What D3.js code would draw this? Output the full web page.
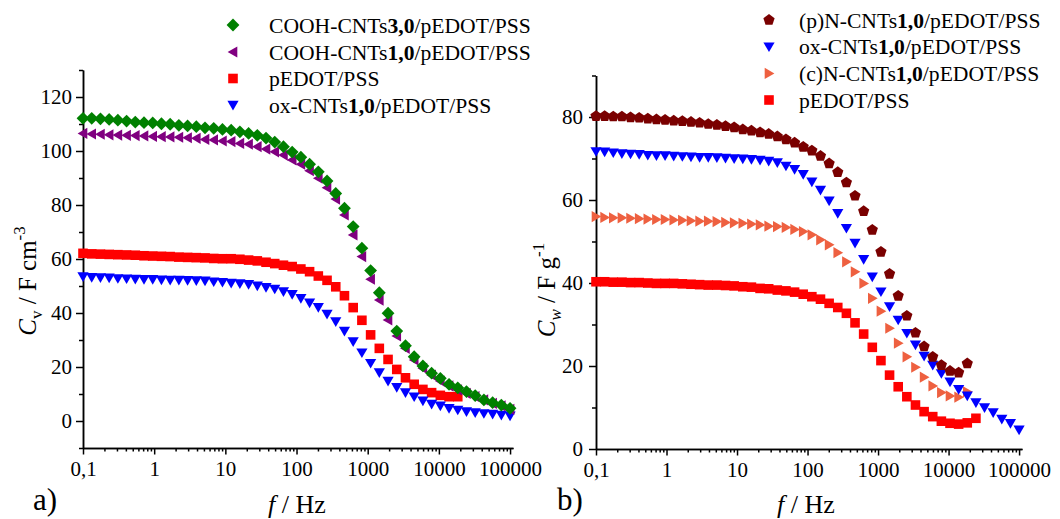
<!DOCTYPE html>
<html>
<head>
<meta charset="utf-8">
<script src="https://cdn.jsdelivr.net/npm/d3@7/dist/d3.min.js"></script>
<style>
  body { margin: 0; background: #fff; }
  svg { display: block; font-family: "Liberation Serif", "Times New Roman", serif; }
  .axis path, .axis line { stroke: #000; stroke-width: 1.5; }
  .axis text { font-size: 21px; fill: #000; font-family: "Liberation Serif", "Times New Roman", serif; }
</style>
</head>
<body>
<svg width="1060" height="519"></svg>
<script>
'use strict';

// frequencies of the sweep (Hz), shared by all series
var freq = [0.1, 0.1326, 0.1758, 0.233, 0.3089, 0.4095, 0.5429, 0.7197, 0.9541, 1.265,
  1.677, 2.223, 2.947, 3.907, 5.179, 6.866, 9.103, 12.07, 16.0, 21.21,
  28.12, 37.28, 49.42, 65.52, 86.85, 115.1, 152.6, 202.4, 268.3, 355.7,
  471.5, 625.1, 828.7, 1099, 1456, 1931, 2560, 3393, 4498, 5964,
  7906, 10481, 13895, 18421, 24421, 32375, 42919, 56899, 75431, 100000];

var xTickValues = [0.1, 1, 10, 100, 1000, 10000, 100000];
var xTickLabels = ['0,1', '1', '10', '100', '1000', '10000', '100000'];

var cvTicks = [0, 20, 40, 60, 80, 100, 120];
var cvMinorTicks = [-10, 10, 30, 50, 70, 90, 110, 130];
var cwTicks = [0, 20, 40, 60, 80];
var cwMinorTicks = [10, 30, 50, 70, 90];

// panel a) volumetric capacitance, F cm-3
var cvCooh30 = [112.1, 112.1, 111.9, 111.7, 111.4, 111.1, 110.7, 110.5, 110.4, 110.1,
  109.9, 109.5, 109.3, 109.0, 108.6, 108.4, 108.0, 107.7, 107.1, 106.5,
  105.8, 104.8, 103.3, 101.6, 99.6, 97.7, 95.1, 92.3, 88.9, 84.3,
  78.8, 72.0, 64.0, 55.7, 47.5, 39.9, 33.3, 27.9, 23.8, 20.4,
  17.7, 15.8, 13.6, 12.3, 10.9, 9.4, 7.8, 6.8, 5.9, 4.7];
var cvCooh10 = [106.5, 106.3, 106.2, 106.0, 105.9, 105.8, 105.7, 105.6, 105.4, 105.3,
  105.2, 105.1, 104.9, 104.7, 104.3, 104.1, 103.7, 103.5, 102.8, 102.5,
  101.6, 100.7, 99.7, 98.5, 96.7, 95.1, 92.7, 89.9, 86.4, 82.2,
  76.3, 68.9, 60.9, 52.5, 44.8, 37.4, 31.5, 26.9, 22.6, 19.5,
  17.0, 14.8, 13.0, 11.5, 10.2, 9.0, 7.8, 6.5, 5.6, 4.3];
var cvPedot = [62.1, 61.9, 61.8, 61.7, 61.6, 61.5, 61.4, 61.2, 61.1, 61.0,
  60.9, 60.7, 60.6, 60.5, 60.4, 60.2, 60.1, 60.1, 59.9, 59.6,
  59.3, 58.8, 58.3, 57.7, 57.2, 56.3, 55.3, 53.7, 52.1, 49.7,
  46.4, 42.0, 37.3, 31.9, 26.9, 22.8, 19.1, 16.0, 13.6, 11.7,
  10.5, 9.5, 9.0, 9.0];
var cvOx = [53.5, 53.2, 53.1, 53.0, 52.8, 52.7, 52.6, 52.5, 52.5, 52.3,
  52.2, 52.2, 52.1, 52.0, 51.9, 51.6, 51.4, 51.1, 50.9, 50.6,
  50.1, 49.5, 48.9, 47.9, 46.9, 45.4, 43.8, 42.1, 39.6, 36.8,
  33.3, 29.4, 25.3, 21.4, 17.9, 14.8, 12.5, 10.5, 9.0, 7.5,
  6.3, 5.6, 4.7, 4.1, 3.5, 3.1, 2.8, 2.6, 2.2, 1.9];

// panel b) gravimetric capacitance, F g-1
var cwPN = [80.2, 80.2, 80.1, 80.1, 79.9, 79.8, 79.6, 79.4, 79.3, 79.1,
  79.0, 78.8, 78.6, 78.3, 78.1, 77.8, 77.5, 77.0, 76.7, 76.3,
  75.9, 75.3, 74.6, 73.8, 72.8, 71.9, 70.6, 68.8, 66.7, 64.2,
  61.0, 57.3, 52.8, 47.5, 42.2, 36.9, 32.1, 28.0, 24.7, 22.2,
  20.2, 18.8, 18.4, 20.6];
var cwOx = [71.7, 71.6, 71.4, 71.2, 71.1, 71.0, 70.8, 70.7, 70.7, 70.6,
  70.5, 70.4, 70.3, 70.3, 70.2, 70.1, 70.0, 69.9, 69.8, 69.6,
  69.4, 69.0, 68.2, 67.4, 66.2, 64.4, 62.4, 59.8, 56.8, 53.2,
  49.6, 45.7, 41.5, 37.9, 34.3, 31.1, 27.9, 25.1, 22.4, 20.2,
  18.2, 16.2, 14.4, 12.8, 11.2, 10.0, 8.8, 7.2, 6.2, 4.6];
var cwCN = [56.0, 55.8, 55.7, 55.7, 55.6, 55.5, 55.4, 55.3, 55.3, 55.2,
  55.1, 55.0, 54.9, 54.9, 54.8, 54.6, 54.5, 54.4, 54.2, 54.0,
  53.7, 53.6, 53.4, 52.9, 52.4, 51.6, 50.4, 49.2, 47.3, 45.1,
  42.7, 39.9, 36.3, 33.2, 29.1, 25.5, 22.2, 19.7, 17.3, 15.2,
  13.6, 12.8, 12.5, 13.8];
var cwPedot = [40.3, 40.3, 40.2, 40.2, 40.1, 40.1, 40.0, 39.9, 39.9, 39.9,
  39.8, 39.7, 39.6, 39.5, 39.5, 39.4, 39.3, 39.1, 39.0, 38.7,
  38.6, 38.3, 38.1, 37.8, 37.3, 36.7, 36.1, 35.1, 34.1, 32.7,
  30.4, 27.7, 24.5, 21.3, 17.8, 15.0, 12.6, 10.6, 9.0, 7.8,
  6.7, 6.2, 6.0, 6.3, 7.4];

var svg = d3.select('svg');

// marker glyphs, centred on 0,0
function markerPath(shape) {
  var p;
  if (shape === 'square') p = [[-4.8, -4.8], [4.8, -4.8], [4.8, 4.8], [-4.8, 4.8]];
  else if (shape === 'diamond') p = [[0, -6.4], [6.4, 0], [0, 6.4], [-6.4, 0]];
  else if (shape === 'triDown') p = [[-5.6, -4.3], [5.6, -4.3], [0, 5.4]];
  else if (shape === 'triLeft') p = [[-5.4, 0], [4.3, -5.6], [4.3, 5.6]];
  else if (shape === 'triRight') p = [[5.4, 0], [-4.3, -5.6], [-4.3, 5.6]];
  else {
    p = d3.range(5).map(function(i) {
      var a = -Math.PI / 2 + i * 2 * Math.PI / 5;
      return [5.9 * Math.cos(a), 5.9 * Math.sin(a)];
    });
  }
  return 'M' + p.map(function(q) { return q[0].toFixed(2) + ',' + q[1].toFixed(2); }).join('L') + 'Z';
}

var panels = [
  {
    xRange: [83, 513],
    yDomain: [-10, 130], yRange: [448, 70],
    yTicks: cvTicks, yMinor: cvMinorTicks, yPad: 4,
    series: [
      { values: cvPedot, color: '#ff0000', shape: 'square' },
      { values: cvOx, color: '#0000ff', shape: 'triDown' },
      { values: cvCooh10, color: '#800080', shape: 'triLeft' },
      { values: cvCooh30, color: '#008000', shape: 'diamond' }
    ],
    legend: {
      markerX: 233, textX: 269, rows: [25, 52, 78.5, 105],
      items: [
        { parts: ['COOH-CNTs', '3,0', '/pEDOT/PSS'], color: '#008000', shape: 'diamond' },
        { parts: ['COOH-CNTs', '1,0', '/pEDOT/PSS'], color: '#800080', shape: 'triLeft' },
        { parts: ['pEDOT/PSS'], color: '#ff0000', shape: 'square' },
        { parts: ['ox-CNTs', '1,0', '/pEDOT/PSS'], color: '#0000ff', shape: 'triDown' }
      ]
    },
    yTitle: { x: 36, y: 281, sub: 'v', subItalic: false, unit: ' / F cm', sup: '-3' },
    xTitleX: 297, tag: 'a)', tagX: 33
  },
  {
    xRange: [596, 1022],
    yDomain: [0, 90], yRange: [449, 75.5],
    yTicks: cwTicks, yMinor: cwMinorTicks, yPad: 6,
    series: [
      { values: cwPedot, color: '#ff0000', shape: 'square' },
      { values: cwCN, color: '#ee6040', shape: 'triRight' },
      { values: cwOx, color: '#0000ff', shape: 'triDown' },
      { values: cwPN, color: '#7a0000', shape: 'pentagon' }
    ],
    legend: {
      markerX: 769, textX: 799, rows: [20, 46.7, 73.4, 100],
      items: [
        { parts: ['(p)N-CNTs', '1,0', '/pEDOT/PSS'], color: '#7a0000', shape: 'pentagon' },
        { parts: ['ox-CNTs', '1,0', '/pEDOT/PSS'], color: '#0000ff', shape: 'triDown' },
        { parts: ['(c)N-CNTs', '1,0', '/pEDOT/PSS'], color: '#ee6040', shape: 'triRight' },
        { parts: ['pEDOT/PSS'], color: '#ff0000', shape: 'square' }
      ]
    },
    yTitle: { x: 555, y: 290, sub: 'w', subItalic: true, unit: ' / F g', sup: '-1' },
    xTitleX: 806, tag: 'b)', tagX: 557
  }
];

panels.forEach(function(p) {
  var xScale = d3.scaleLog().domain([0.1, 110000]).range(p.xRange);
  var yScale = d3.scaleLinear().domain(p.yDomain).range(p.yRange);
  var y0 = p.yRange[0];

  // minor x ticks: 2..9 of each decade
  var xMinor = xScale.ticks().filter(function(d) {
    return xTickValues.indexOf(d) < 0 && d <= 100000;
  });

  svg.append('g')
      .attr('class', 'axis')
      .attr('transform', 'translate(0,' + y0 + ')')
      .call(d3.axisBottom(xScale).tickValues(xMinor).tickFormat('').tickSize(3.5).tickSizeOuter(0));

  svg.append('g')
      .attr('class', 'axis')
      .attr('transform', 'translate(0,' + y0 + ')')
      .call(d3.axisBottom(xScale)
        .tickValues(xTickValues)
        .tickFormat(function(d, i) { return xTickLabels[i]; })
        .tickSize(6.5)
        .tickSizeOuter(0)
        .tickPadding(7));

  svg.append('g')
      .attr('class', 'axis')
      .attr('transform', 'translate(' + p.xRange[0] + ',0)')
      .call(d3.axisLeft(yScale).tickValues(p.yMinor).tickFormat('').tickSize(4).tickSizeOuter(0));

  svg.append('g')
      .attr('class', 'axis')
      .attr('transform', 'translate(' + p.xRange[0] + ',0)')
      .call(d3.axisLeft(yScale)
        .tickValues(p.yTicks)
        .tickSize(7)
        .tickSizeOuter(0)
        .tickPadding(p.yPad));

  // data points
  p.series.forEach(function(s) {
    svg.append('g')
      .selectAll('path')
      .data(s.values.map(function(v, i) { return { f: freq[i], v: v }; }))
      .enter().append('path')
        .attr('d', markerPath(s.shape))
        .attr('transform', function(d) {
          return 'translate(' + xScale(d.f) + ',' + yScale(d.v) + ')';
        })
        .style('fill', s.color);
  });

  // legend
  p.legend.items.forEach(function(item, i) {
    var ry = p.legend.rows[i];
    svg.append('path')
      .attr('d', markerPath(item.shape))
      .attr('transform', 'translate(' + p.legend.markerX + ',' + ry + ')')
      .style('fill', item.color);
    var t = svg.append('text')
      .attr('x', p.legend.textX)
      .attr('y', ry)
      .attr('dy', '0.35em')
      .style('font-size', '21.6px');
    item.parts.forEach(function(part, j) {
      t.append('tspan').text(part).style('font-weight', j === 1 ? 'bold' : 'normal');
    });
  });

  // y axis title
  var yt = svg.append('text')
    .attr('transform', 'translate(' + p.yTitle.x + ',' + p.yTitle.y + ') rotate(-90)')
    .attr('text-anchor', 'middle')
    .style('font-size', '25px');
  yt.append('tspan').text('C').style('font-style', 'italic');
  yt.append('tspan').text(p.yTitle.sub).attr('dy', 6).style('font-size', '17px')
    .style('font-style', p.yTitle.subItalic ? 'italic' : 'normal');
  yt.append('tspan').text(p.yTitle.unit).attr('dy', -6);
  yt.append('tspan').text(p.yTitle.sup).attr('dy', -11).style('font-size', '17px');

  // x axis title
  var xt = svg.append('text')
    .attr('x', p.xTitleX)
    .attr('y', 513)
    .attr('text-anchor', 'middle')
    .style('font-size', '26px');
  xt.append('tspan').text('f').style('font-style', 'italic');
  xt.append('tspan').text(' / Hz');

  // panel tag
  svg.append('text')
    .attr('x', p.tagX)
    .attr('y', 510)
    .style('font-size', '31px')
    .text(p.tag);
});
</script>
</body>
</html>
